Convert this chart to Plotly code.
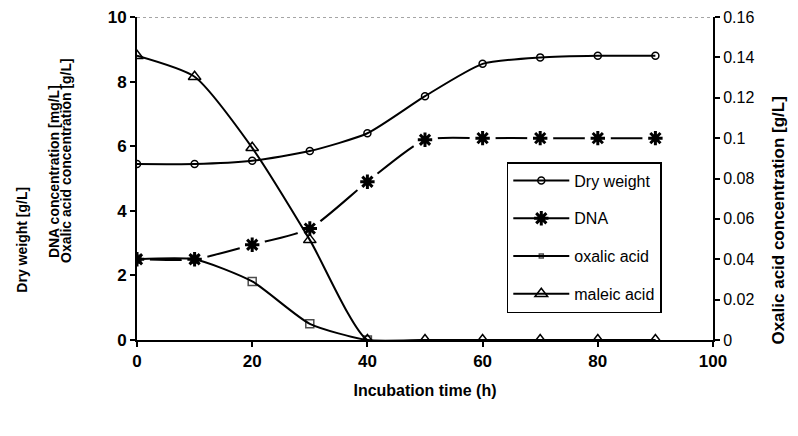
import plotly.graph_objects as go

time = [0, 10, 20, 30, 40, 50, 60, 70, 80, 90]
dry_weight = [5.45, 5.45, 5.55, 5.85, 6.4, 7.55, 8.55, 8.75, 8.8, 8.8]
dna = [2.5, 2.5, 2.95, 3.45, 4.9, 6.2, 6.25, 6.25, 6.25, 6.25]
oxalic_time = [0, 10, 20, 30, 40, 50, 60, 70, 80, 90]
oxalic = [0.04, 0.04, 0.029, 0.008, 0.0, 0.0, 0.0, 0.0, 0.0, 0.0]
maleic = [8.8, 8.15, 5.95, 3.1, 0.0, 0.0, 0.0, 0.0, 0.0, 0.0]

x_ticks = [0, 20, 40, 60, 80, 100]
y_ticks = [0, 2, 4, 6, 8, 10]
y2_ticks = [0, 0.02, 0.04, 0.06, 0.08, 0.1, 0.12, 0.14, 0.16]
y2_labels = ["0", "0.02", "0.04", "0.06", "0.08", "0.1", "0.12", "0.14", "0.16"]

FONT = "Liberation Sans, Arial, sans-serif"

fig = go.Figure()

# DNA: line, then white halos (gaps round the markers), then the asterisks
fig.add_trace(go.Scatter(
    x=time, y=dna, mode="lines", showlegend=False, hoverinfo="skip",
    line=dict(color="black", width=2, shape="spline", smoothing=0.6)))
fig.add_trace(go.Scatter(
    x=time, y=dna, mode="markers", showlegend=False, hoverinfo="skip",
    marker=dict(symbol="circle", size=26, color="white", line=dict(width=0))))
dna_x_iso, dna_y_iso = [], []
for t, v in zip(time, dna):
    dna_x_iso += [t, None]
    dna_y_iso += [v, None]
fig.add_trace(go.Scatter(
    x=dna_x_iso, y=dna_y_iso, name="DNA", mode="lines+markers", connectgaps=False,
    line=dict(color="black", width=2),
    marker=dict(symbol="asterisk-open", size=12, color="black", line=dict(width=3, color="black")),
    legendgroup="b", legendrank=2))

fig.add_trace(go.Scatter(
    x=time, y=dry_weight, name="Dry weight", mode="lines+markers",
    line=dict(color="black", width=2, shape="spline", smoothing=0.6),
    marker=dict(symbol="circle-open", size=7, color="black", line=dict(width=1.5)),
    legendgroup="a", legendrank=1))
fig.add_trace(go.Scatter(
    x=oxalic_time, y=oxalic,
    name="oxalic acid", mode="lines+markers", yaxis="y2",
    line=dict(color="black", width=2, shape="spline", smoothing=0.6),
    marker=dict(symbol="square-open", size=[8, 8, 8, 8, 8, 0, 0, 0, 0, 0],
                color="black", line=dict(width=1.5)),
    legendgroup="c", legendrank=3))
fig.add_trace(go.Scatter(
    x=time, y=maleic, name="maleic acid", mode="lines+markers",
    line=dict(color="black", width=2, shape="spline", smoothing=0.6),
    marker=dict(symbol="triangle-up-open", size=11, color="black", line=dict(width=1.5)),
    legendgroup="d", legendrank=4))

fig.add_shape(type="line", xref="x", yref="y", x0=0, x1=100, y0=10, y1=10,
              line=dict(color="#888888", width=1.5, dash="dot"))

# page body has an 8px margin; compensate so the plot lands where the reference has it
fig.update_layout(
    width=798, height=436,
    margin=dict(l=129, r=93, t=9, b=104),
    paper_bgcolor="white", plot_bgcolor="white",
    showlegend=True,
    legend=dict(x=0.642, y=0.551, xanchor="left", yanchor="top",
                bordercolor="black", borderwidth=1.5, bgcolor="white",
                font=dict(family=FONT, size=16, color="black"),
                traceorder="grouped", tracegroupgap=14, itemwidth=56),
    xaxis=dict(range=[0, 100], tickvals=x_ticks, showgrid=False, zeroline=False,
               automargin=False, ticklabeloverflow="allow",
               showline=True, linecolor="black", linewidth=2,
               ticks="outside", ticklen=5, tickwidth=2, tickcolor="black",
               tickfont=dict(family=FONT, size=17, color="black", weight="bold"),
               title=dict(text="Incubation time (h)", standoff=14,
                          font=dict(family=FONT, size=16, color="black", weight="bold"))),
    yaxis=dict(range=[0, 10], tickvals=y_ticks, showgrid=False, zeroline=False,
               automargin=False, ticklabeloverflow="allow",
               showline=True, linecolor="black", linewidth=2,
               ticks="outside", ticklen=5, tickwidth=2, tickcolor="black",
               tickfont=dict(family=FONT, size=17, color="black", weight="bold")),
    yaxis2=dict(range=[0, 0.16], tickvals=y2_ticks, ticktext=y2_labels,
                overlaying="y", side="right", showgrid=False, zeroline=False,
                automargin=False, ticklabeloverflow="allow",
                showline=True, linecolor="black", linewidth=2,
                ticks="outside", ticklen=5, tickwidth=2, tickcolor="black",
                tickfont=dict(family=FONT, size=16, color="black")),
)

fig.add_annotation(text="Dry weight [g/L]", textangle=-90, xref="paper", yref="paper",
                   x=-0.2, y=0.31, showarrow=False, xanchor="center", yanchor="middle",
                   font=dict(family=FONT, size=14, color="black", weight="bold"))
fig.add_annotation(text="DNA concentration [mg/L]", textangle=-90, xref="paper", yref="paper",
                   x=-0.144, y=0.52, showarrow=False, xanchor="center", yanchor="middle",
                   font=dict(family=FONT, size=14, color="black", weight="bold"))
fig.add_annotation(text="Oxalic acid concentration [g/L]", textangle=-90, xref="paper", yref="paper",
                   x=-0.123, y=0.555, showarrow=False, xanchor="center", yanchor="middle",
                   font=dict(family=FONT, size=14, color="black", weight="bold"))
fig.add_annotation(text="Oxalic acid concentration [g/L]", textangle=-90, xref="paper", yref="paper",
                   x=1.113, y=0.37, showarrow=False, xanchor="center", yanchor="middle",
                   font=dict(family=FONT, size=17, color="black", weight="bold"))

fig.write_html("out.html")
